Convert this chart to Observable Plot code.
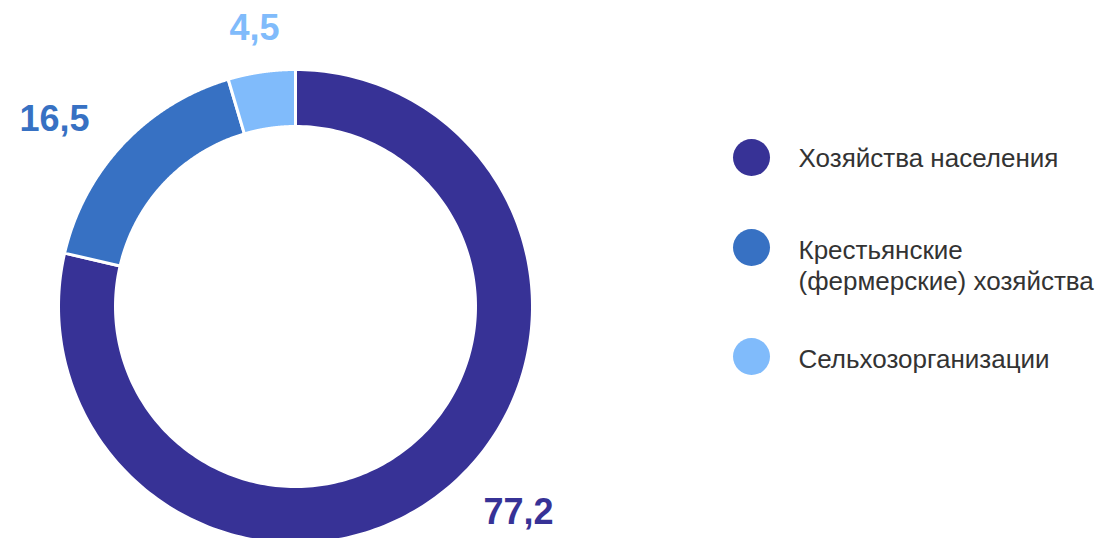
<!DOCTYPE html>
<html><head><meta charset="utf-8">
<script src="https://cdn.jsdelivr.net/npm/d3@7"></script>
<script src="https://cdn.jsdelivr.net/npm/@observablehq/plot@0.6"></script>
<style>body{margin:0;background:#fff}</style>
</head><body><div id="chart"></div>
<script>
const categories = ["Хозяйства населения", "Крестьянские\n(фермерские) хозяйства", "Сельхозорганизации"];
const values = [77.2, 16.5, 4.5];
const valueLabels = ["77,2", "16,5", "4,5"];
const colors = ["#373296", "#3771c3", "#80bbfb"];

const W = 1097, H = 538;
const cx = 295, cy = 306, rOuter = 237, rInner = 180;

const pie = d3.pie().sort(null).value(d => d.value)(values.map((v, i) => ({value: v, i})));
const polys = [];
pie.forEach(p => {
  const n = 240;
  const pts = [];
  for (let k = 0; k <= n; k++) {
    const a = p.startAngle + (p.endAngle - p.startAngle) * k / n;
    pts.push({x: cx + rOuter * Math.sin(a), y: cy - rOuter * Math.cos(a)});
  }
  for (let k = n; k >= 0; k--) {
    const a = p.startAngle + (p.endAngle - p.startAngle) * k / n;
    pts.push({x: cx + rInner * Math.sin(a), y: cy - rInner * Math.cos(a)});
  }
  pts.push(pts[0]);
  pts.forEach(q => polys.push({...q, cat: categories[p.data.i]}));
});

// label positions (layout)
const labelPos = [{x: 483, y: 523, anchor: "start"}, {x: 19, y: 130, anchor: "start"}, {x: 254, y: 39, anchor: "middle"}];
const labels = valueLabels.map((t, i) => ({t, i, ...labelPos[i]}));

const legendDotY = [157, 247, 356];
const legendTextTop = [144, 236, 345];
const legend = categories.map((c, i) => ({c, i, y: legendDotY[i], ty: legendTextTop[i]}));

const chart = Plot.plot({
  width: W, height: H, margin: 0,
  x: {domain: [0, W], range: [0, W], axis: null},
  y: {domain: [0, H], range: [0, H], axis: null},
  color: {domain: categories, range: colors},
  style: {fontFamily: "'Liberation Sans', Arial, sans-serif"},
  marks: [
    Plot.line(polys, {x: "x", y: "y", z: "cat", fill: "cat", stroke: "white", strokeWidth: 3, curve: "linear"}),
    ...labels.map(l => Plot.text([l], {x: "x", y: "y", text: "t", fill: colors[l.i], fontSize: 36, fontWeight: "bold", textAnchor: l.anchor, lineAnchor: "bottom"})),
    Plot.dot(legend, {x: () => 751, y: "y", r: 18.5, fill: d => colors[d.i], stroke: null}),
    Plot.text(legend, {x: () => 798, y: "ty", text: "c", textAnchor: "start", lineAnchor: "top", fontSize: 26, fill: "#333", lineHeight: 1.2})
  ]
});
document.getElementById("chart").appendChild(chart);
</script></body></html>
